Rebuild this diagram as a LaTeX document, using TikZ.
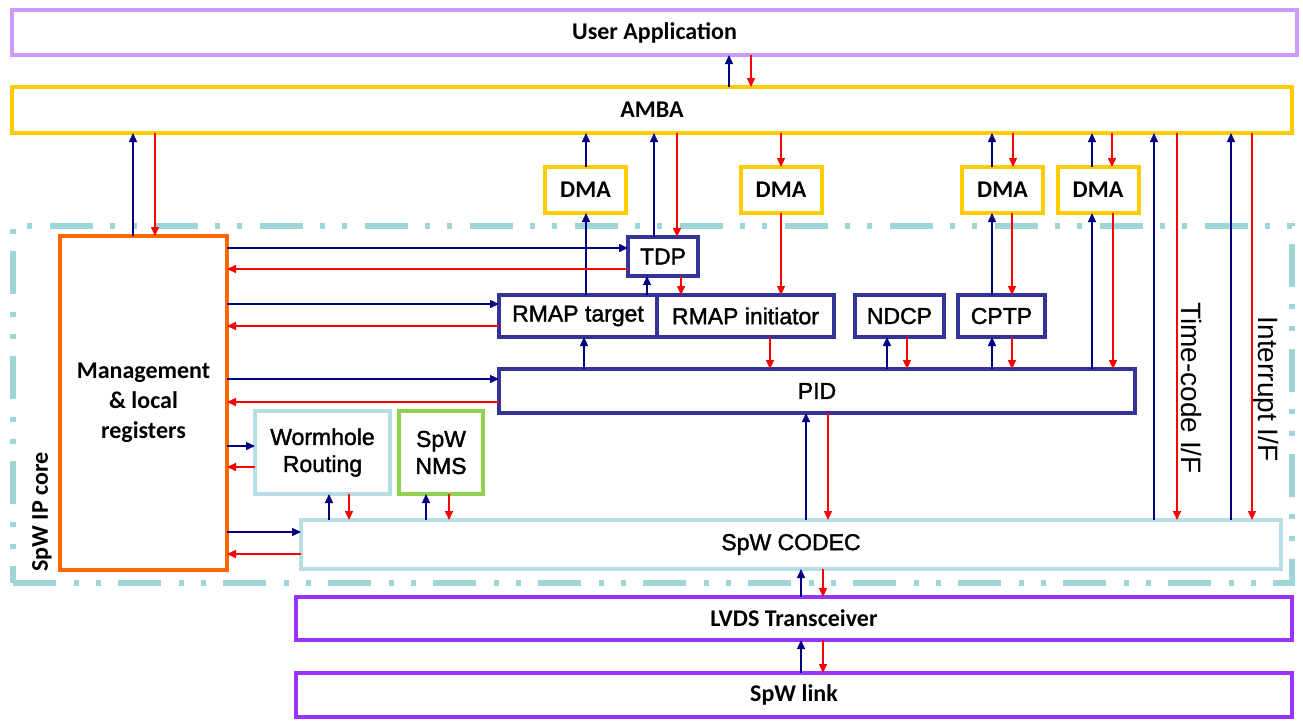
\documentclass[tikz,border=0pt]{standalone}
\usepackage{fontspec}
\setmainfont{Carlito}
\newfontfamily\arialfont{Liberation Sans}
\newfontfamily\arialheavy[FakeBold=1.6]{Liberation Sans}
\usetikzlibrary{arrows.meta}
\definecolor{navyarc}{RGB}{0,0,128}
\definecolor{redline}{RGB}{255,0,0}
\definecolor{lilac}{RGB}{204,153,255}
\definecolor{amber}{RGB}{255,204,0}
\definecolor{linkviolet}{RGB}{153,51,255}
\definecolor{coreteal}{RGB}{160,213,216}
\definecolor{paleteal}{RGB}{183,222,228}
\definecolor{nmsgreen}{RGB}{146,208,80}
\definecolor{indigo}{RGB}{51,51,153}
\definecolor{mgmtorange}{RGB}{255,102,0}

\begin{document}
\begin{tikzpicture}[
  x=0.5pt,y=-0.5pt,
  box/.style={rectangle,draw,line width=2pt,inner sep=0pt,outer sep=0pt,font=\bfseries\fontsize{12}{15}\selectfont,align=center},
  pbox/.style={rectangle,draw=indigo,line width=1.6pt,inner sep=0pt,outer sep=0pt,font=\arialheavy\fontsize{11.5}{13.5}\selectfont,align=center},
  core/.style={rectangle,draw=coreteal,line width=3pt,dash pattern=on 21.5pt off 9pt on 2.5pt off 8.5pt on 2.5pt off 8.5pt,inner sep=0pt},
  barc/.style={-{Triangle[length=4.5pt,width=4pt]},line width=0.7pt,navyarc},
  rarc/.style={-{Triangle[length=4.5pt,width=4pt]},line width=0.7pt,redline},
  side/.style={font=\arialfont\fontsize{14}{16}\selectfont,rotate=-90},
]
\useasboundingbox (0,0) rectangle (1303,720);
% IP core boundary
\node[core,minimum width=639.5pt,minimum height=178.5pt] (core) at (652.5,404.5) {};
\node[font=\bfseries\fontsize{12}{15}\selectfont,rotate=90] (corelab) at (42,512) {SpW IP core};
% outer layers
\node[box,draw=lilac,minimum width=642.5pt,minimum height=22.5pt] (ua) at (654.5,32.5) {User Application};
\node[box,draw=amber,minimum width=640pt,minimum height=23pt] (amba) at (652,110) {AMBA};
\node[box,draw=amber,minimum width=40.5pt,minimum height=23pt] (dma1) at (585.5,190) {DMA};
\node[box,draw=amber,minimum width=40.5pt,minimum height=23pt] (dma2) at (781,190) {DMA};
\node[box,draw=amber,minimum width=40.5pt,minimum height=23pt] (dma3) at (1002.5,190) {DMA};
\node[box,draw=amber,minimum width=40.5pt,minimum height=23pt] (dma4) at (1098,190) {DMA};
% core blocks
\node[box,draw=mgmtorange,minimum width=83.5pt,minimum height=167pt] (mgmt) at (143.5,403) {Management\\\& local\\registers};
\node[pbox,minimum width=35pt,minimum height=19.5pt] (tdp) at (663,256.5) {TDP};
\node[pbox,minimum width=79pt,minimum height=21pt] (rmapt) at (578,316) {RMAP target};
\node[pbox,minimum width=88.5pt,minimum height=21pt] (rmapi) at (745.5,316) {RMAP initiator};
\node[pbox,minimum width=44.5pt,minimum height=21pt] (ndcp) at (899.5,316) {NDCP};
\node[pbox,minimum width=43.5pt,minimum height=21pt] (cptp) at (1001.5,316) {CPTP};
\node[pbox,minimum width=318pt,minimum height=22pt] (pid) at (817,391) {PID};
\node[pbox,draw=paleteal,minimum width=67.5pt,minimum height=41.5pt] (worm) at (322.5,452.5) {Wormhole\\Routing};
\node[pbox,draw=nmsgreen,minimum width=42pt,minimum height=41.5pt] (nms) at (441,452.5) {SpW\\NMS};
\node[pbox,draw=paleteal,minimum width=490pt,minimum height=24.5pt] (codec) at (791,544.5) {SpW CODEC};
% physical layer
\node[box,draw=linkviolet,minimum width=498pt,minimum height=21.5pt] (lvds) at (794,618.5) {LVDS Transceiver};
\node[box,draw=linkviolet,minimum width=498pt,minimum height=22pt] (link) at (794,695) {SpW link};
\node[side] (tclab) at (1191,388) {Time-code I/F};
\node[side] (irqlab) at (1266,389) {Interrupt I/F};
% AMBA side
\draw[barc] (729,0 |- amba.north) -- (729,0 |- ua.south);
\draw[rarc] (751,0 |- ua.south) -- (751,0 |- amba.north);
\draw[barc] (133,0 |- mgmt.north) -- (133,0 |- amba.south);
\draw[rarc] (155,0 |- amba.south) -- (155,0 |- mgmt.north);
\draw[barc] (586,0 |- dma1.north) -- (586,0 |- amba.south);
\draw[barc] (586,0 |- rmapt.north) -- (586,0 |- dma1.south);
\draw[barc] (654,0 |- tdp.north) -- (654,0 |- amba.south);
\draw[rarc] (677,0 |- amba.south) -- (677,0 |- tdp.north);
\draw[rarc] (781,0 |- amba.south) -- (781,0 |- dma2.north);
\draw[rarc] (781,0 |- dma2.south) -- (781,0 |- rmapi.north);
\draw[barc] (992,0 |- dma3.north) -- (992,0 |- amba.south);
\draw[rarc] (1013,0 |- amba.south) -- (1013,0 |- dma3.north);
\draw[barc] (992,0 |- cptp.north) -- (992,0 |- dma3.south);
\draw[rarc] (1012,0 |- dma3.south) -- (1012,0 |- cptp.north);
\draw[barc] (1092,0 |- dma4.north) -- (1092,0 |- amba.south);
\draw[rarc] (1112,0 |- amba.south) -- (1112,0 |- dma4.north);
\draw[barc] (1092,0 |- pid.north) -- (1092,0 |- dma4.south);
\draw[rarc] (1113,0 |- dma4.south) -- (1113,0 |- pid.north);
\draw[barc] (1154,0 |- codec.north) -- (1154,0 |- amba.south);
\draw[rarc] (1177,0 |- amba.south) -- (1177,0 |- codec.north);
\draw[barc] (1231,0 |- codec.north) -- (1231,0 |- amba.south);
\draw[rarc] (1252,0 |- amba.south) -- (1252,0 |- codec.north);
% inside the core
\draw[barc] (647,0 |- rmapt.north) -- (647,0 |- tdp.south);
\draw[rarc] (681,0 |- tdp.south) -- (681,0 |- rmapi.north);
\draw[barc] (584,0 |- pid.north) -- (584,0 |- rmapt.south);
\draw[rarc] (770,0 |- rmapi.south) -- (770,0 |- pid.north);
\draw[barc] (887,0 |- pid.north) -- (887,0 |- ndcp.south);
\draw[rarc] (907,0 |- ndcp.south) -- (907,0 |- pid.north);
\draw[barc] (992,0 |- pid.north) -- (992,0 |- cptp.south);
\draw[rarc] (1012,0 |- cptp.south) -- (1012,0 |- pid.north);
\draw[barc] (806,0 |- codec.north) -- (806,0 |- pid.south);
\draw[rarc] (828,0 |- pid.south) -- (828,0 |- codec.north);
\draw[barc] (329,0 |- codec.north) -- (329,0 |- worm.south);
\draw[rarc] (349,0 |- worm.south) -- (349,0 |- codec.north);
\draw[barc] (426,0 |- codec.north) -- (426,0 |- nms.south);
\draw[rarc] (449,0 |- nms.south) -- (449,0 |- codec.north);
\draw[barc] (801,0 |- lvds.north) -- (801,0 |- codec.south);
\draw[rarc] (823,0 |- codec.south) -- (823,0 |- lvds.north);
\draw[barc] (801,0 |- link.north) -- (801,0 |- lvds.south);
\draw[rarc] (823,0 |- lvds.south) -- (823,0 |- link.north);
% management links
\draw[barc] (mgmt.east |- 0,248) -- (tdp.west |- 0,248);
\draw[rarc] (tdp.west |- 0,269) -- (mgmt.east |- 0,269);
\draw[barc] (mgmt.east |- 0,304) -- (rmapt.west |- 0,304);
\draw[rarc] (rmapt.west |- 0,326) -- (mgmt.east |- 0,326);
\draw[barc] (mgmt.east |- 0,379) -- (pid.west |- 0,379);
\draw[rarc] (pid.west |- 0,402) -- (mgmt.east |- 0,402);
\draw[barc] (mgmt.east |- 0,446) -- (worm.west |- 0,446);
\draw[rarc] (worm.west |- 0,467) -- (mgmt.east |- 0,467);
\draw[barc] (mgmt.east |- 0,532) -- (codec.west |- 0,532);
\draw[rarc] (codec.west |- 0,554) -- (mgmt.east |- 0,554);
\end{tikzpicture}
\end{document}
